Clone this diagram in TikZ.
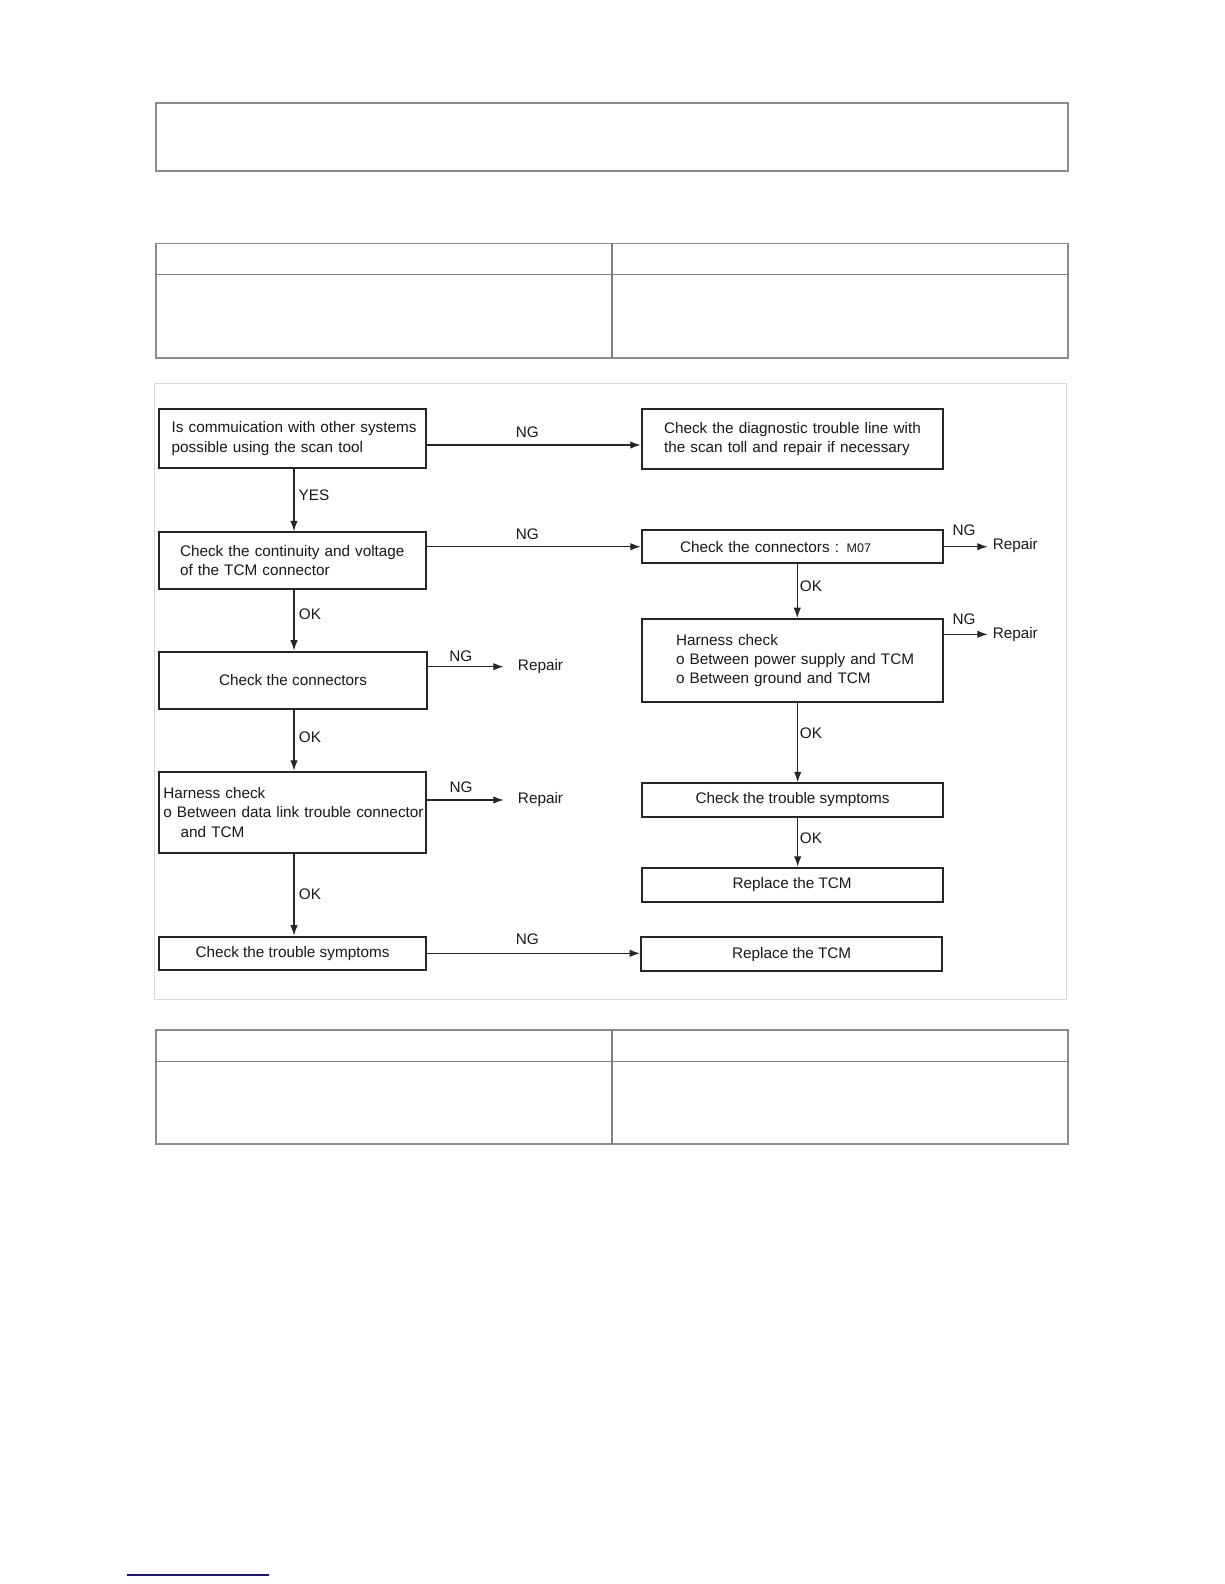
\documentclass[tikz,border=0pt]{standalone}
\usepackage{fontspec}
\setmainfont{Liberation Sans}
\usetikzlibrary{arrows.meta}
\newcommand\fsz{\fontsize{15.3}{19.3}\selectfont}
\begin{document}
\begin{tikzpicture}[x=1pt,y=-1pt,
  box/.style={draw=black!85, line width=1.9pt, rectangle, inner ysep=0pt, font=\fsz, text=black!90, fill=white},
  lbox/.style={box, align=left},
  cbox/.style={box, align=center},
  arr/.style={draw=black!85, line width=1.4pt, -{Latex[length=10.5pt,width=7.5pt]}},
  lbl/.style={font=\fsz, inner sep=0pt, text=black!90},
  tline/.style={draw=black!45, line width=1.6pt},
  tdiv/.style={draw=black!50, line width=1.2pt}]
\fill[white] (0,0) rectangle (1224,1584);
\useasboundingbox (0,0) rectangle (1224,1584);

% top box and tables
\draw[tline] (156,103.3) rectangle (1068,171);
\draw[tline] (156,243.3) rectangle (1068,357.7);
\draw[tdiv] (156,274.3) -- (1068,274.3);
\draw[tdiv] (612,243.3) -- (612,357.7);
\draw[tline] (156,1030) rectangle (1068,1144);
\draw[tdiv] (156,1061.3) -- (1068,1061.3);
\draw[tdiv] (612,1030) -- (612,1144);

% diagram frame
\draw[draw=black!15, line width=1pt] (154.5,383.8) rectangle (1066.5,999.8);

% left column
\node[lbox, minimum width=267pt, minimum height=59pt, text width=241.6pt, inner xsep=12.7pt] (b1) at (292.5,438.5)
  {\mbox{Is commuication with other systems}\\\mbox{possible using the scan tool}};
\node[lbox, minimum width=267pt, minimum height=56.5pt, text width=225pt, inner xsep=21pt] (b2) at (292.5,560.5)
  {\mbox{Check the continuity and voltage}\\\mbox{of the TCM connector}};
\node[cbox, minimum width=267.4pt, minimum height=57.3pt, inner xsep=0pt] (b3) at (293,680.3)
  {Check the connectors};
\node[lbox, minimum width=267pt, minimum height=81.6pt, text width=258.4pt, inner xsep=4.3pt] (b4) at (292.5,812.5)
  {\mbox{Harness check}\\\mbox{o Between data link trouble connector}\\\mbox{\hspace*{17.4pt}and TCM}};
\node[cbox, minimum width=267pt, minimum height=33.3pt, inner xsep=0pt] (b5) at (292.5,953.3)
  {Check the trouble symptoms};

% right column
\node[lbox, minimum width=301pt, minimum height=60pt, text width=256.4pt, inner xsep=22.3pt] (r1) at (792.2,439)
  {\mbox{Check the diagnostic trouble line with}\\\mbox{the scan toll and repair if necessary}};
\node[lbox, minimum width=301pt, minimum height=33.3pt, text width=224.4pt, inner xsep=38.3pt] (r2) at (792.2,546.7)
  {\mbox{Check the connectors : {\fontsize{12.5}{14}\selectfont M07}}};
\node[lbox, minimum width=301pt, minimum height=83.3pt, text width=232.4pt, inner xsep=34.3pt] (r3) at (792.2,660.7)
  {\mbox{Harness check}\\\mbox{o Between power supply and TCM}\\\mbox{o Between ground and TCM}};
\node[cbox, minimum width=300.4pt, minimum height=33.4pt, inner xsep=0pt] (r4) at (792.5,800)
  {Check the trouble symptoms};
\node[cbox, minimum width=301pt, minimum height=34pt, inner xsep=0pt] (r5) at (792.2,884.7)
  {Replace the TCM};
\node[cbox, minimum width=301.3pt, minimum height=33.7pt, inner xsep=0pt] (r6) at (791.7,954.2)
  {Replace the TCM};

% repair labels
\node[lbl] (rp1) at (540.5,666.7) {Repair};
\node[lbl] (rp2) at (540.5,800) {Repair};
\node[lbl] (rp3) at (1015.3,546) {Repair};
\node[lbl] (rp4) at (1015.3,634.3) {Repair};

% NG / OK / YES labels
\node[lbl] (ng1) at (527.3,432.5) {NG};
\node[lbl] (ng2) at (527.3,534) {NG};
\node[lbl] (ng3) at (460.8,655.8) {NG};
\node[lbl] (ng4) at (461,787.5) {NG};
\node[lbl] (ng5) at (527.3,939.5) {NG};
\node[lbl] (ng6) at (964,530) {NG};
\node[lbl] (ng7) at (964,618.8) {NG};
\node[lbl] (yes1) at (314,495) {YES};
\node[lbl] (ok1) at (310,614) {OK};
\node[lbl] (ok2) at (310,737.5) {OK};
\node[lbl] (ok3) at (310,894) {OK};
\node[lbl] (ok4) at (811,586) {OK};
\node[lbl] (ok5) at (811,733.5) {OK};
\node[lbl] (ok6) at (811,838) {OK};

% connectors
\draw[arr] ([yshift=-6.5pt]b1.east) -- ([yshift=-6pt]r1.west);
\draw[arr] (b2.east |- r2.west) -- (r2.west);
\draw[arr] (b5.east) -- (b5.east -| r6.west);
\draw[arr, shorten >=14pt] (b3.east |- rp1.west) -- (rp1.west);
\draw[arr, shorten >=14pt] (b4.east |- rp2.west) -- (rp2.west);
\draw[arr, shorten >=4.8pt] (r2.east) -- (rp3.west |- r2.east);
\draw[arr, shorten >=4.8pt] (r3.east |- rp4.west) -- (rp4.west);
\draw[arr] ([xshift=1.5pt]b1.south) -- ([xshift=1.5pt]b2.north);
\draw[arr] ([xshift=1.5pt]b2.south) -- ([xshift=1pt]b3.north);
\draw[arr] ([xshift=1pt]b3.south) -- ([xshift=1.5pt]b4.north);
\draw[arr] ([xshift=1.5pt]b4.south) -- ([xshift=1.5pt]b5.north);
\draw[arr] ([xshift=5.1pt]r2.south) -- ([xshift=5.1pt]r3.north);
\draw[arr] ([xshift=5.5pt]r3.south) -- ([xshift=5.2pt]r4.north);
\draw[arr] ([xshift=5.2pt]r4.south) -- ([xshift=5.5pt]r5.north);

% footer line
\draw[draw={rgb,255:red,20;green,20;blue,130}, line width=1.6pt] (126.7,1575) -- (269,1575);
\end{tikzpicture}
\end{document}
